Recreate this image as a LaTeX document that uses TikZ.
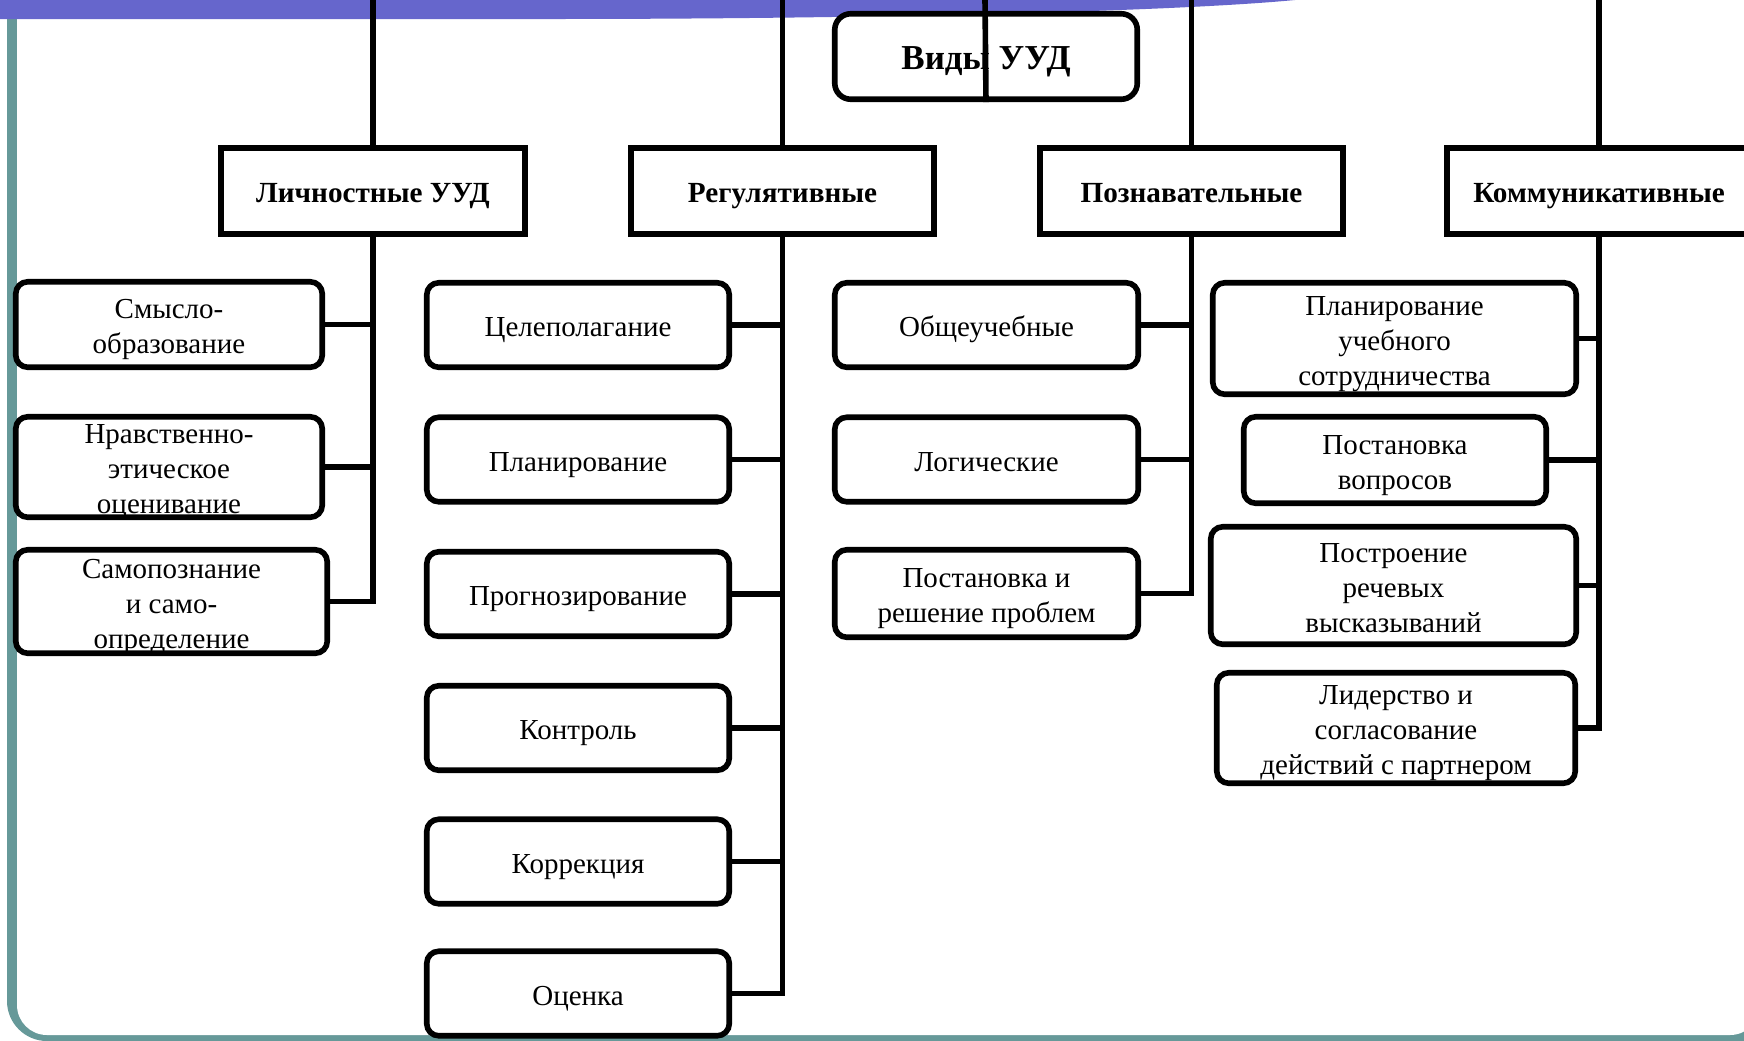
\documentclass[tikz,border=0pt]{standalone}
\usepackage{fontspec}
\setmainfont{Liberation Serif}
\definecolor{bandc}{RGB}{102,102,204}
\definecolor{framec}{RGB}{102,153,153}
\newcommand\mkbox[7]{% style, name, x, y, w, h, text
  \node[#1, minimum width=#5, minimum height=#6] (#2) at (#3,#4) {};
  \node[#1text] (#2t) at ([yshift=-2.25pt]#2.center) {\strut #7\strut};}
\begin{document}
\begin{tikzpicture}[x=0.5pt,y=-0.5pt,
  lw/.style={line width=2.8pt},
  titlebox/.style={draw, lw, fill=white, rounded corners=8pt, inner sep=0pt},
  titleboxtext/.style={inner sep=0pt, font=\fontsize{17.5}{21}\selectfont\bfseries},
  catbox/.style={draw, lw, fill=white, inner sep=0pt},
  catboxtext/.style={inner sep=0pt, font=\fontsize{14.6}{17.5}\selectfont\bfseries},
  itembox/.style={draw, lw, fill=white, rounded corners=6pt, inner sep=0pt},
  itemboxtext/.style={inner sep=0pt, align=center, font=\fontsize{14.5}{17.5}\selectfont},
  conn/.style={lw}
]
\useasboundingbox (0,0) rectangle (1744,1040);
\clip (0,0) rectangle (1744,1040);
% frame
\fill[framec, rounded corners=20pt] (7,-60) rectangle (1800,1041);
\fill[white, rounded corners=15pt] (17,-60) rectangle (1760,1035);
% band
\fill[bandc] (0,0) -- (1295,0) .. controls (1170,12) and (850,19) .. (550,19) -- (0,19) -- cycle;

% title
\mkbox{titlebox}{title}{986}{56.5}{151.25pt}{42.75pt}{Виды УУД}
% categories
\mkbox{catbox}{c1}{373}{191}{151.75pt}{43.25pt}{Личностные УУД}
\mkbox{catbox}{c2}{782.5}{191}{151.75pt}{43.25pt}{Регулятивные}
\mkbox{catbox}{c3}{1191.5}{191}{151.75pt}{43.25pt}{Познавательные}
\mkbox{catbox}{c4}{1599}{191}{151.75pt}{43.25pt}{Коммуникативные}

% Личностные
\mkbox{itembox}{l1}{169}{324.5}{153.25pt}{42.75pt}{Смысло-\\образование}
\mkbox{itembox}{l2}{169}{467}{153.25pt}{50.25pt}{Нравственно-\\этическое\\оценивание}
\mkbox{itembox}{l3}{171.5}{601.5}{155.75pt}{51.75pt}{Самопознание\\и само-\\определение}

% Регулятивные
\mkbox{itembox}{r1}{578}{325}{151.25pt}{42.25pt}{Целеполагание}
\mkbox{itembox}{r2}{578}{459.5}{151.25pt}{42.25pt}{Планирование}
\mkbox{itembox}{r3}{578}{594}{151.25pt}{42.25pt}{Прогнозирование}
\mkbox{itembox}{r4}{578}{728}{151.25pt}{42.25pt}{Контроль}
\mkbox{itembox}{r5}{578}{861.5}{151.25pt}{42.25pt}{Коррекция}
\mkbox{itembox}{r6}{578}{993.5}{151.25pt}{42.25pt}{Оценка}

% Познавательные
\mkbox{itembox}{p1}{986.5}{325}{151.75pt}{42.25pt}{Общеучебные}
\mkbox{itembox}{p2}{986.5}{459.5}{151.75pt}{42.25pt}{Логические}
\mkbox{itembox}{p3}{986.5}{593.5}{151.75pt}{43.75pt}{Постановка и\\решение проблем}

% Коммуникативные
\mkbox{itembox}{k1}{1394.5}{338.5}{181.75pt}{55.75pt}{Планирование\\учебного\\сотрудничества}
\mkbox{itembox}{k2}{1395}{460}{151.25pt}{43.25pt}{Постановка\\вопросов}
\mkbox{itembox}{k3}{1393.5}{585.5}{182.75pt}{58.75pt}{Построение\\речевых\\высказываний}
\mkbox{itembox}{k4}{1396}{728}{179.25pt}{55.25pt}{Лидерство и\\согласование\\действий с партнером}

% top lines
\coordinate (t0) at (985,0);
\coordinate (t1) at (373,0);
\coordinate (t2) at (782.5,0);
\coordinate (t3) at (1191.5,0);
\coordinate (t4) at (1599,0);
\draw[conn] (t0) -- (title.south);
\draw[conn] (t1) -- (c1.north);
\draw[conn] (t2) -- (c2.north);
\draw[conn] (t3) -- (c3.north);
\draw[conn] (t4) -- (c4.north);

% trunks
\draw[conn] (c1.south) -- (l3.east -| c1.south) -- (l3.east);
\draw[conn] (l1.east) -- (l1.east -| c1.south);
\draw[conn] (l2.east) -- (l2.east -| c1.south);

\draw[conn] (c2.south) -- (r6.east -| c2.south) -- (r6.east);
\foreach \n in {r1,r2,r3,r4,r5} \draw[conn] (\n.east) -- (\n.east -| c2.south);

\draw[conn] (c3.south) -- (p3.east -| c3.south) -- (p3.east);
\foreach \n in {p1,p2} \draw[conn] (\n.east) -- (\n.east -| c3.south);

\draw[conn] (c4.south) -- (k4.east -| c4.south) -- (k4.east);
\foreach \n in {k1,k2,k3} \draw[conn] (\n.east) -- (\n.east -| c4.south);
\end{tikzpicture}
\end{document}
